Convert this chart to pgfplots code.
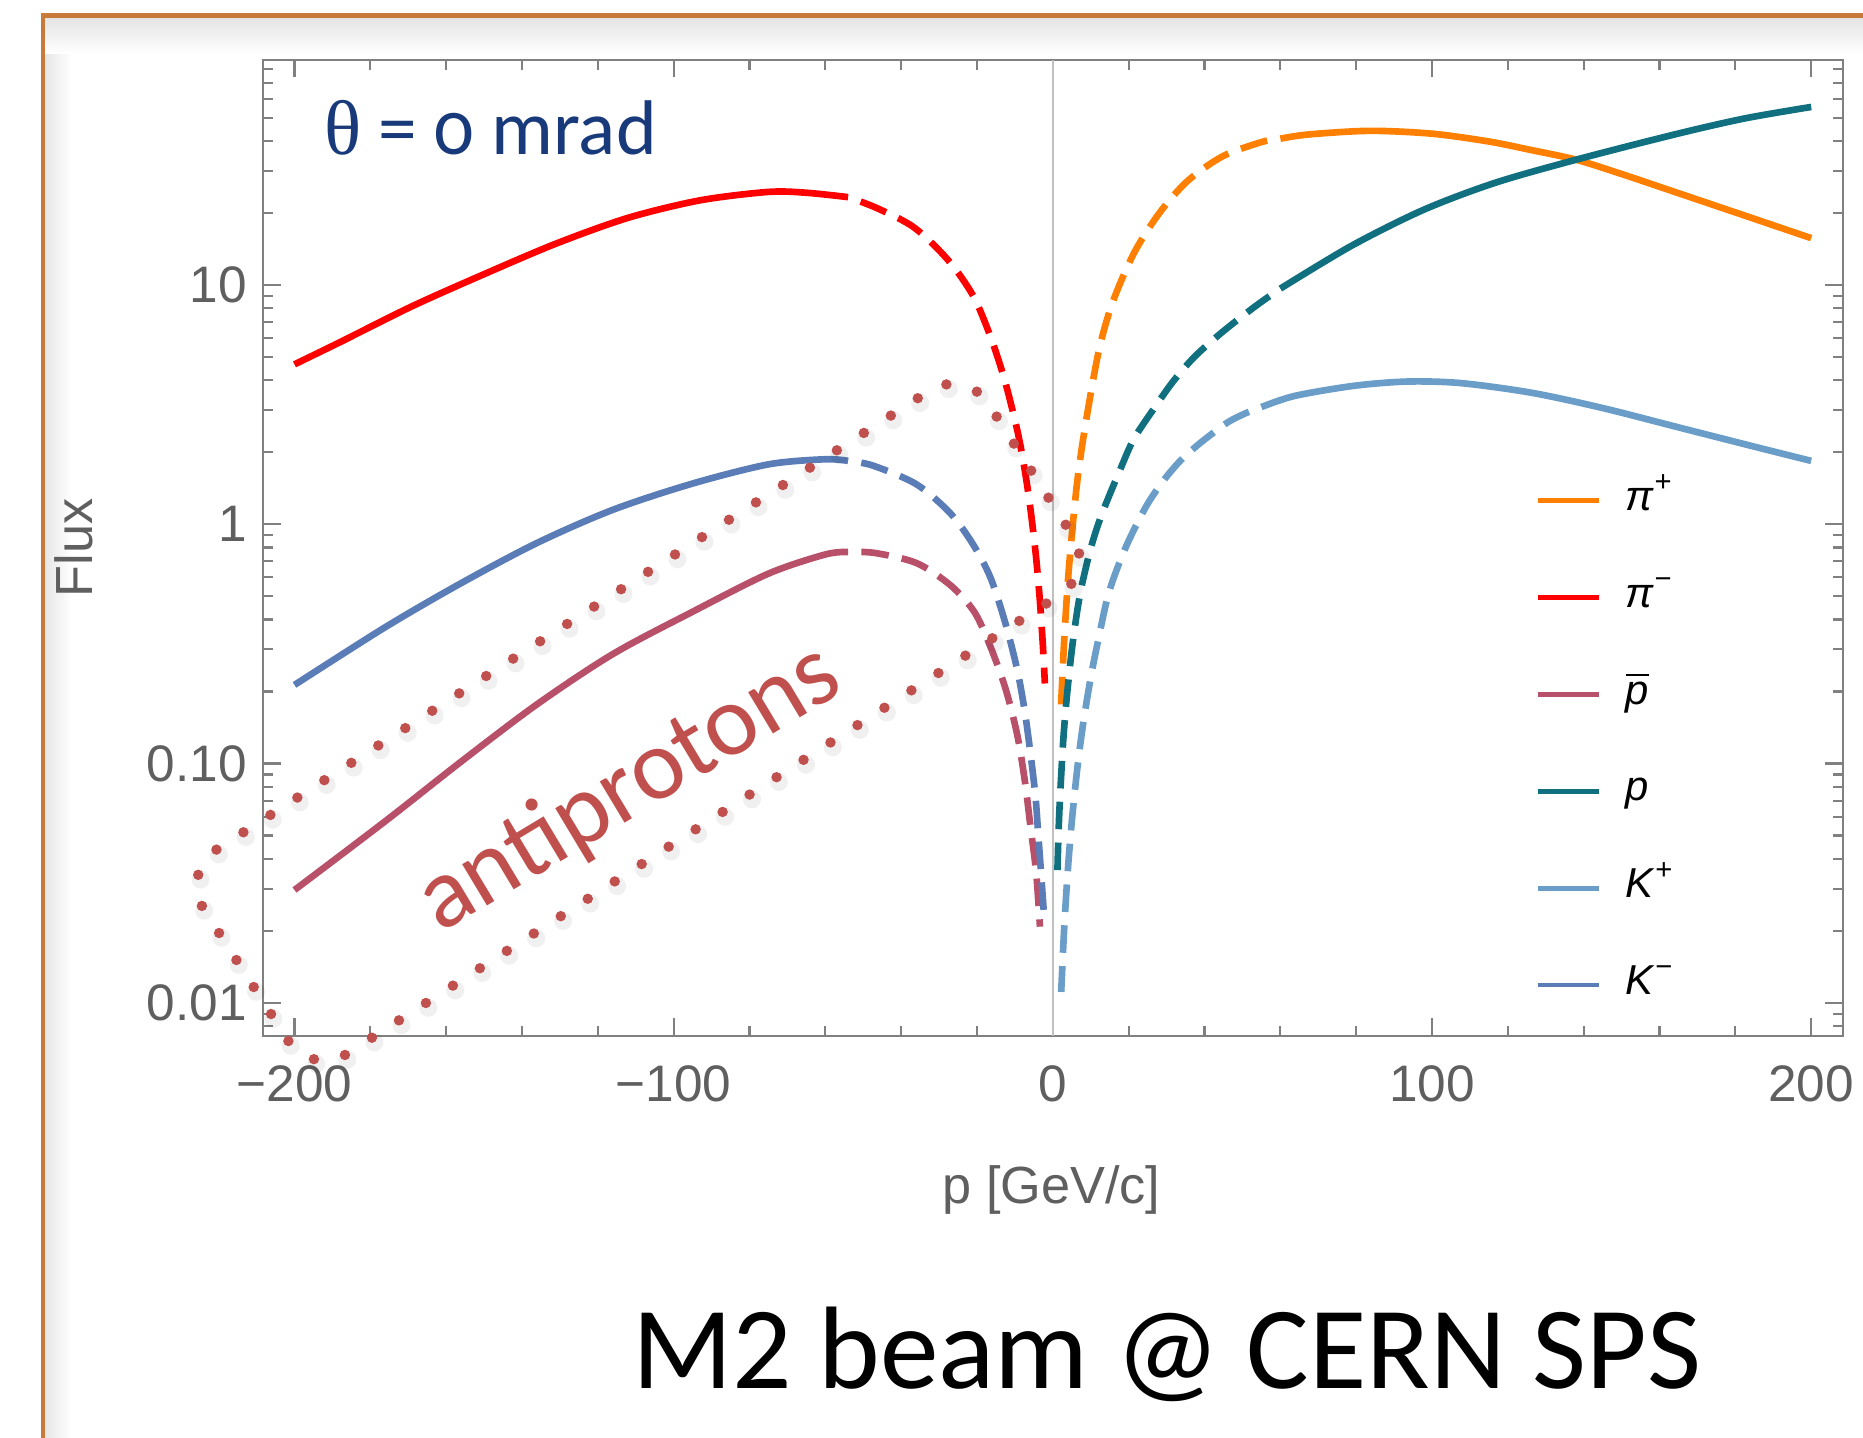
\documentclass[border=0pt]{standalone}
\usepackage{pgfplots}
\pgfplotsset{compat=1.18}
\usepackage{fontspec}
\setmainfont{Liberation Sans}
\newfontfamily\calibri[Numbers=OldStyle]{Carlito}
\newfontfamily\calibriL{Carlito}
\newfontfamily\serifgr{Liberation Serif}
\definecolor{cPiP}{RGB}{255,128,0}
\definecolor{cPiM}{RGB}{255,0,0}
\definecolor{cPbar}{RGB}{185,80,106}
\definecolor{cP}{RGB}{16,112,128}
\definecolor{cKP}{RGB}{106,158,201}
\definecolor{cKM}{RGB}{90,125,183}
\definecolor{anno}{RGB}{192,80,77}
\definecolor{thetacol}{RGB}{25,58,122}
\definecolor{framecol}{RGB}{200,122,58}
\definecolor{axgray}{RGB}{128,128,128}
\definecolor{lblgray}{RGB}{95,95,95}
\pgfplotsset{
  dashpat/.style={dash pattern=on 5.8pt off 2.8pt, dash phase=5.8pt},
  curve/.style={line width=1.4pt, smooth},
}
\begin{document}
\begin{tikzpicture}[x=0.25pt,y=0.25pt]
\useasboundingbox (0,0) rectangle (1568,1210);
\fill[white] (0,0) rectangle (1568,1210);
\shade[left color=black!10, right color=white] (37,-20) rectangle (60,1196);
\shade[top color=black!11, bottom color=white!0] (37,1165) rectangle (1600,1196);
\draw[framecol, line width=0.9pt] (36,-20) -- (36,1197) -- (1600,1197);

\begin{axis}[
  at={(55.425pt,84.5pt)}, anchor=south west,
  width=332.3pt, height=205.4pt, scale only axis,
  xmin=-208.2, xmax=208.3,
  ymode=log, ymin=0.00726, ymax=87.3,
  xtick={-200,-100,0,100,200},
  xticklabels={−200,−100,0,100,200},
  minor xtick={-180,-160,-140,-120,-80,-60,-40,-20,20,40,60,80,120,140,160,180},
  ytick={0.01,0.1,1,10},
  yticklabels={0.01,0.10,1,10},
  minor ytick={0.008,0.009,0.02,0.03,0.04,0.05,0.06,0.07,0.08,0.09,0.2,0.3,0.4,0.5,0.6,0.7,0.8,0.9,2,3,4,5,6,7,8,9,20,30,40,50,60,70,80},
  tick align=inside,
  major tick length=3.7pt, minor tick length=2.1pt,
  axis line style={draw=axgray, line width=0.45pt},
  every tick/.style={draw=axgray, line width=0.45pt},
  tick label style={font=\fontsize{10.8}{12}\selectfont, text=lblgray},
  xticklabel style={inner sep=0pt, yshift=-6.1pt},
  yticklabel style={inner sep=0pt, xshift=-3.3pt},
  legend style={at={(0.806,0.568)}, anchor=north west, draw=none, fill=none,
    inner sep=0pt, outer sep=0pt, font=\fontsize{8.8}{10}\selectfont,
    row sep=12.4pt, column sep=5.2pt,
    nodes={inner sep=0pt, text height=6pt, text depth=2pt}},
  legend cell align=left,
  legend image code/.code={\draw[line width=0.9pt, solid] (0pt,0pt) -- (12.75pt,0pt);},
]
\draw[black!25, line width=0.5pt] (axis cs:0,0.00726) -- (axis cs:0,87.3);

% pi+
\addplot[cPiP, curve] coordinates {(60,40.9) (67.5,42.6) (83.6,44.1) (100,42.9) (115,39.8) (126,36.7) (138,33.4) (150,29.1) (164,24.5) (182.5,19.5) (200,15.7)};
\addlegendentry{\textit{π}\textsuperscript{+}}
\addplot[cPiP, curve, dashpat, forget plot] coordinates {(60,40.9) (55.3,39.7) (44.9,34.6) (35.5,27.2) (28,19.9) (21.4,13.6) (15.7,8.41) (12,5.2) (8.3,2.44) (6.2,1.40) (4.2,0.645) (3,0.329) (2.1,0.165)};

% pi-
\addplot[cPiM, curve] coordinates {(-200,4.66) (-188,5.77) (-169,8.15) (-150,11.1) (-131,14.9) (-112,19.1) (-93,22.6) (-75,24.5) (-65,24.3) (-54,23.3)};
\addlegendentry{\textit{π}\textsuperscript{−}}
\addplot[cPiM, curve, dashpat, forget plot] coordinates {(-54,23.3) (-46.5,21.0) (-36.6,17.4) (-27.6,12.7) (-21,9.0) (-16.3,6.0) (-12.6,3.95) (-9.3,2.44) (-7.4,1.68) (-6,1.19) (-4.5,0.748) (-3.5,0.497) (-2.7,0.325) (-2.1,0.216)};

% pbar
\addplot[cPbar, curve] coordinates {(-200,0.0296) (-176,0.0575) (-156,0.102) (-136,0.177) (-116,0.287) (-95,0.431) (-75,0.622) (-60,0.748) (-54,0.766)};
\addlegendentry{$\overline{\mbox{\textit{p}}}$}
\addplot[cPbar, curve, dashpat, forget plot] coordinates {(-54,0.766) (-47,0.759) (-36,0.689) (-27,0.556) (-20.7,0.430) (-16.5,0.309) (-12.5,0.206) (-9.4,0.132) (-7.4,0.0849) (-5.9,0.0545) (-4.4,0.0350) (-3.4,0.0208)};

% p
\addplot[cP, curve] coordinates {(60,9.66) (78.8,14.6) (97.7,20.6) (116.5,26.7) (138,33.4) (164,42.6) (182.5,49.7) (200,55.5)};
\addlegendentry{\textit{p}}
\addplot[cP, curve, dashpat, forget plot] coordinates {(60,9.66) (53.4,8.15) (44.9,6.40) (37.4,5.02) (31.7,3.95) (27,3.10) (21.4,2.28) (17.6,1.67) (12.9,1.10) (10,0.794) (7.2,0.513) (5.2,0.316) (3.7,0.191) (2.7,0.122) (1.7,0.0624) (1.2,0.0355)};

% K+
\addplot[cKP, curve] coordinates {(55,3.09) (63.8,3.44) (79.4,3.79) (93.5,3.95) (107.7,3.89) (126.5,3.54) (145.4,3.05) (164.2,2.56) (183,2.15) (200,1.84)};
\addlegendentry{\textit{K}\textsuperscript{+}}
\addplot[cKP, curve, dashpat, forget plot] coordinates {(55,3.09) (50.6,2.90) (46,2.66) (40,2.26) (36,2.00) (33,1.80) (29,1.51) (24.5,1.18) (19.2,0.80) (14.8,0.52) (12,0.33) (10,0.229) (8,0.147) (6.5,0.0969) (5,0.0573) (4,0.0367) (3,0.0206) (2.2,0.0111)};

% K-
\addplot[cKM, curve] coordinates {(-200,0.213) (-176,0.372) (-156,0.568) (-136,0.836) (-116,1.15) (-95,1.48) (-75,1.78) (-60,1.87) (-54,1.84)};
\addlegendentry{\textit{K}\textsuperscript{−}}
\addplot[cKM, curve, dashpat, forget plot] coordinates {(-54,1.84) (-47.5,1.76) (-36,1.47) (-27,1.11) (-21,0.822) (-16.4,0.596) (-12.5,0.385) (-9.4,0.247) (-7.4,0.165) (-5.9,0.110) (-4.6,0.0733) (-3.9,0.0519) (-3.1,0.0347) (-2.3,0.0229)};
\end{axis}

% axis labels
\node[rotate=90, font=\fontsize{11}{12}\selectfont, text=lblgray] at (62,749) {Flux};
\node[anchor=base, font=\fontsize{11}{12}\selectfont, text=lblgray] at (885,197) {p [GeV/c]};

% theta label
\node[anchor=base west, inner sep=0pt, text=thetacol, font=\calibri\fontsize{16.3}{18}\selectfont] at (272,1080) {{\serifgr θ} = 0 mrad};

% antiproton annotation
\draw[black, opacity=0.06, line width=3.8pt, line cap=round, dash pattern=on 0pt off 6.75pt, rounded corners=9pt, shift={(2,-4)}]
  (151.9,475.4) -- (812.5,900.6) -- (922.2,728.8) -- (262,303.7) -- cycle;
\draw[anno, line width=2.2pt, line cap=round, dash pattern=on 0pt off 6.75pt, rounded corners=9pt]
  (151.9,475.4) -- (812.5,900.6) -- (922.2,728.8) -- (262,303.7) -- cycle;
\node[text=anno, rotate=31, font=\calibri\fontsize{21.2}{24}\selectfont] at (530,546) {antiprotons};

% title
\node[anchor=base, inner sep=0pt, font=\calibriL\fontsize{24.7}{28}\selectfont] at (982,41.4) {M2 beam @ CERN SPS};
\end{tikzpicture}
\end{document}
